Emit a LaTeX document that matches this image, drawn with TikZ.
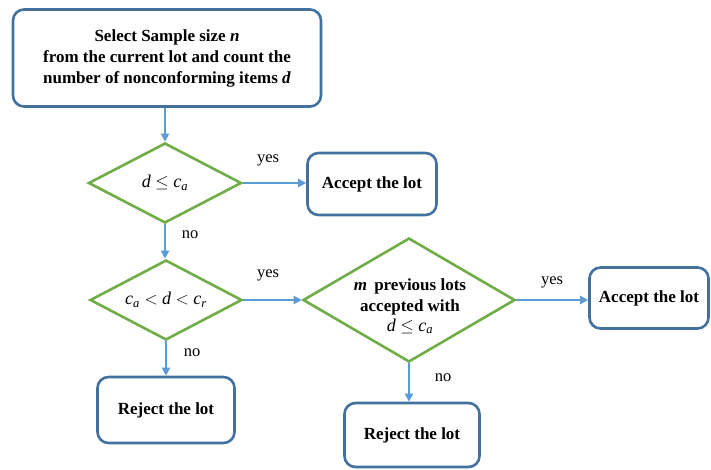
\documentclass[tikz,border=0pt]{standalone}
\usepackage{fontspec}
\setmainfont{Liberation Serif}
\usetikzlibrary{shapes.geometric,arrows.meta}
\definecolor{boxblue}{HTML}{41719C}
\definecolor{dgreen}{HTML}{70AD47}
\definecolor{arrblue}{HTML}{5B9BD5}
\tikzset{
  procbox/.style={draw=boxblue, line width=2.6pt, rounded corners=11pt, fill=white, align=center, font=\fontsize{17}{21}\selectfont\bfseries, inner sep=0pt},
  decision/.style={draw=dgreen, line width=2.6pt, diamond, fill=white, inner sep=0pt},
  dtext/.style={align=center, inner sep=0pt, font=\fontsize{18}{21}\selectfont},
  flow/.style={draw=arrblue, line width=2.2pt, -{Triangle[length=8pt,width=8pt]}},
  lbl/.style={font=\fontsize{16.5}{18}\selectfont, inner sep=0pt}
}
\begin{document}
\begin{tikzpicture}[x=1pt,y=-1pt]
\useasboundingbox (0,0) rectangle (711,469);
\node[procbox, minimum width=308pt, minimum height=97pt] (start) at (167,58)
  {Select Sample size \textit{n}\\ from the current lot and count the\\ number of nonconforming items \textit{d}};
\node[decision, minimum width=153pt, minimum height=80pt] (d1) at (165,183) {};
\node[dtext] (t1) at (d1.center) {\textit{d} $\leq$ \textit{c}\textsubscript{\textit{a}}};
\node[procbox, minimum width=129pt, minimum height=62pt] (acc1) at (372,184) {Accept the lot};
\node[decision, minimum width=152pt, minimum height=80pt] (d2) at (166,300) {};
\node[dtext] (t2) at (d2.center) {\textit{c}\textsubscript{\textit{a}} $<$ \textit{d} $<$ \textit{c}\textsubscript{\textit{r}}};
\node[decision, minimum width=212pt, minimum height=124pt] (d3) at (409,300) {};
\node[dtext, font=\fontsize{17}{21}\selectfont] (t3) at (410,306)
  {\bfseries\textit{m}\, previous lots\\ \bfseries accepted with\\[-1pt] \fontsize{18}{21}\selectfont\textit{d} $\leq$ \textit{c}\textsubscript{\textit{a}}};
\node[procbox, minimum width=119pt, minimum height=61pt] (acc2) at (649,298) {Accept the lot};
\node[procbox, minimum width=137pt, minimum height=66pt] (rej1) at (166,410) {Reject the lot};
\node[procbox, minimum width=135pt, minimum height=64pt] (rej2) at (412,435) {Reject the lot};
\draw[flow] (start.south -| d1.north) -- (d1.north);
\draw[flow] (d1.east) -- (acc1.west |- d1.east);
\draw[flow] (d1.south) -- (d2.north -| d1.south);
\draw[flow] (d2.east) -- (d3.west);
\draw[flow] (d2.south) -- (rej1.north -| d2.south);
\draw[flow] (d3.east) -- (acc2.west |- d3.east);
\draw[flow] (d3.south) -- (rej2.north -| d3.south);
\node[lbl] (y1) at (268,160) {yes};
\node[lbl] (n1) at (190,235) {no};
\node[lbl] (y2) at (268,275) {yes};
\node[lbl] (n2) at (192,353) {no};
\node[lbl] (y3) at (552,282) {yes};
\node[lbl] (n3) at (443,378) {no};
\end{tikzpicture}
\end{document}
